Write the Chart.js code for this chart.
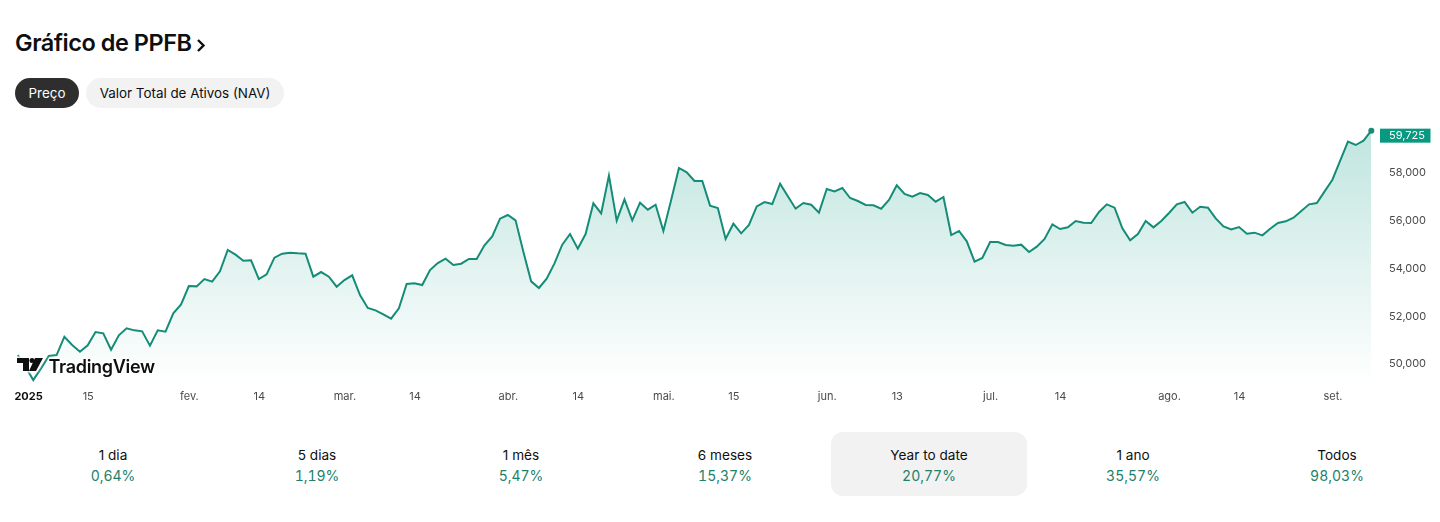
<!DOCTYPE html>
<html lang="pt">
<head>
<meta charset="utf-8">
<title>Gráfico de PPFB</title>
<script src="https://cdn.jsdelivr.net/npm/chart.js@4"></script>
<style>
    html, body { margin: 0; padding: 0; background: #fff; }
    body { width: 1440px; height: 522px; position: relative; overflow: hidden; font-family: Inter, sans-serif; color: #0f0f0f; }
    h1 { position: absolute; left: 15px; top: 27px; margin: 0; font-size: 23.5px; line-height: 32px; font-weight: 600; letter-spacing: -0.47px; white-space: nowrap; }
    h1 svg { vertical-align: -2px; margin-left: 3px; }
    .pill { position: absolute; top: 78px; height: 30px; line-height: 31px; border-radius: 15px; text-align: center; font-size: 13.4px; box-sizing: border-box; }
    #pillPrice { left: 15px; width: 64px; background: #2e2e2e; color: #fff; }
    #pillNav { left: 86px; width: 198px; background: #f2f2f2; }
    #chartBox { position: absolute; left: 0; top: 120px; width: 1440px; height: 290px; }
    #logo { position: absolute; left: 17px; top: 355px; height: 22px; display: flex; align-items: center; color: #0f0f0f; filter: drop-shadow(0 0 1px #fff) drop-shadow(0 0 1px #fff) drop-shadow(0 0 1px #fff); }
    #logo svg { margin-top: -3px; }
    #logo span { font-size: 18px; font-weight: 600; letter-spacing: -0.3px; margin-left: 4.5px; }
    #periods { position: absolute; left: 11px; top: 432px; display: flex; }
    .period { width: 196px; margin: 0 4px; height: 64px; border-radius: 12px; text-align: center; font-size: 13.6px; box-sizing: border-box; padding-top: 13.5px; line-height: 18px; }
    .period b { display: block; font-weight: 400; font-size: 14px; font-variant-numeric: tabular-nums; color: #22806b; margin-top: 3px; }
    .period.active { background: #f2f2f2; }
</style>
</head>
<body>
<h1>Gráfico de PPFB<svg width="12" height="16" viewBox="0 0 12 16"><path d="M3 3l5.5 5.5L3 14" fill="none" stroke="#0f0f0f" stroke-width="2.4"/></svg></h1>
<div class="pill" id="pillPrice">Preço</div>
<div class="pill" id="pillNav">Valor Total de Ativos (NAV)</div>
<div id="chartBox"><canvas id="priceChart"></canvas></div>
<div id="logo">
    <svg width="27" height="13" viewBox="0 0 27 13"><path d="M0 0h12v13H6V5H0zM18 0h8l-7 13h-7z" fill="#0f0f0f"/><circle cx="15" cy="2.5" r="2.5" fill="#0f0f0f"/></svg>
    <span>TradingView</span>
</div>
<div id="periods"></div>

<script>
// closing prices, one per trading day
const prices = [
    50338, 49850, 49292, 49780, 50296, 50338, 51105, 50757, 50478, 50743,
    51301, 51245, 50562, 51161, 51454, 51370, 51329, 50729, 51370, 51315,
    52082, 52458, 53225, 53211, 53518, 53407, 53839, 54732, 54536, 54285,
    54299, 53518, 53714, 54411, 54578, 54620, 54592, 54578, 53616, 53811,
    53616, 53197, 53476, 53672, 52849, 52305, 52207, 52040, 51859, 52291,
    53309, 53337, 53267, 53895, 54188, 54369, 54104, 54160, 54355, 54355,
    54927, 55303, 56043, 56196, 55973, 54662, 53421, 53142, 53532, 54174,
    54955, 55401, 54787, 55401, 56684, 56266, 57842, 55959, 56852, 55973,
    56712, 56419, 56628, 55527, 56824, 58163, 57981, 57619, 57619, 56587,
    56489, 55192, 55833, 55429, 55778, 56559, 56740, 56656, 57507, 56977,
    56461, 56698, 56628, 56294, 57284, 57186, 57326, 56907, 56782, 56615,
    56601, 56461, 56824, 57437, 57075, 56963, 57117, 57033, 56754, 56949,
    55359, 55527, 55094, 54244, 54397, 55066, 55066, 54941, 54913, 54955,
    54648, 54871, 55192, 55806, 55610, 55680, 55945, 55875, 55861, 56322,
    56642, 56503, 55638, 55136, 55401, 55945, 55680, 55945, 56280, 56642,
    56740, 56294, 56545, 56503, 56057, 55722, 55596, 55694, 55415, 55457,
    55345, 55624, 55861, 55931, 56085, 56363, 56642, 56698, 57186, 57674,
    58469, 59264, 59125, 59306, 59725
];

// x axis labels, keyed by position in prices
const xLabelIndex = [1, 9, 22, 31, 42, 51, 63, 72, 83, 92, 104, 113, 125, 134, 148, 157, 169];
const xLabelText = ['\u00a0\u00a02025', '15', 'fev.', '14', 'mar.', '14', 'abr.', '14', 'mai.', '15', 'jun.', '13', 'jul.', '14', 'ago.', '14', 'set.'];

const yTickValues = [50000, 52000, 54000, 56000, 58000];

const periodNames = ['1 dia', '5 dias', '1 mês', '6 meses', 'Year to date', '1 ano', 'Todos'];
const periodChanges = ['0,64%', '1,19%', '5,47%', '15,37%', '20,77%', '35,57%', '98,03%'];
const activePeriod = 'Year to date';

const lineColor = '#158c78';
const tagColor = '#089981';

const periods = document.getElementById('periods');
periodNames.forEach((name, i) => {
    const cell = document.createElement('div');
    cell.className = name === activePeriod ? 'period active' : 'period';
    cell.innerHTML = `${name}<b>${periodChanges[i]}</b>`;
    periods.appendChild(cell);
});

const labels = prices.map((p, i) => {
    const at = xLabelIndex.indexOf(i);
    return at >= 0 ? xLabelText[at] : '';
});

// green tag with the last price on the right axis
const lastPriceTag = {
    id: 'lastPriceTag',
    afterDraw(chart) {
        const ctx = chart.ctx;
        const last = prices[prices.length - 1];
        const y = chart.scales.y.getPixelForValue(last) + 5;
        ctx.save();
        ctx.fillStyle = tagColor;
        ctx.fillRect(1380, y - 7, 50.5, 14);
        ctx.fillStyle = '#fff';
        ctx.font = '11px Inter, sans-serif';
        ctx.textAlign = 'left';
        ctx.textBaseline = 'middle';
        ctx.fillText(last.toLocaleString('en-US'), 1389, y + 0.5);
        ctx.restore();
    }
};

new Chart(document.getElementById('priceChart'), {
    type: 'line',
    data: {
        labels: labels,
        datasets: [{
            data: prices,
            borderColor: lineColor,
            borderWidth: 2,
            tension: 0,
            fill: 'start',
            backgroundColor: ctx => {
                const area = ctx.chart.chartArea;
                if (!area) return 'transparent';
                const g = ctx.chart.ctx.createLinearGradient(0, area.top, 0, area.bottom);
                g.addColorStop(0, 'rgba(8, 153, 129, 0.26)');
                g.addColorStop(1, 'rgba(8, 153, 129, 0)');
                return g;
            },
            pointRadius: ctx => ctx.dataIndex === prices.length - 1 ? 3 : 0,
            pointBackgroundColor: lineColor,
            pointBorderWidth: 0
        }]
    },
    options: {
        responsive: true,
        maintainAspectRatio: false,
        animation: false,
        layout: { padding: { left: 17.7, top: 5, right: 0, bottom: 0 } },
        plugins: { legend: { display: false }, tooltip: { enabled: false } },
        scales: {
            x: {
                grid: { display: false, drawTicks: false },
                border: { display: false },
                afterFit: scale => { scale.height = 25; },
                ticks: {
                    autoSkip: false,
                    maxRotation: 0,
                    padding: 5,
                    labelOffset: 0.5,
                    color: ctx => ctx.index === xLabelIndex[0] ? '#0f0f0f' : '#4a4a4a',
                    font: ctx => ({
                        family: 'Inter, sans-serif',
                        size: 11,
                        weight: ctx.index === xLabelIndex[0] ? '700' : '400'
                    })
                }
            },
            y: {
                position: 'right',
                min: 49084,
                max: 59962,
                grid: { display: false, drawTicks: false },
                border: { display: false },
                afterBuildTicks: scale => { scale.ticks = yTickValues.map(v => ({ value: v })); },
                afterFit: scale => {
                    // tick padding would otherwise push the plot area down
                    scale.width = 68.7;
                    scale.paddingTop = 0;
                    scale.paddingBottom = 0;
                },
                ticks: {
                    padding: 17.7,
                    labelOffset: 1,
                    color: '#4a4a4a',
                    font: { family: 'Inter, sans-serif', size: 11 },
                    callback: v => v.toLocaleString('en-US')
                }
            }
        }
    },
    plugins: [lastPriceTag]
});
</script>
</body>
</html>
